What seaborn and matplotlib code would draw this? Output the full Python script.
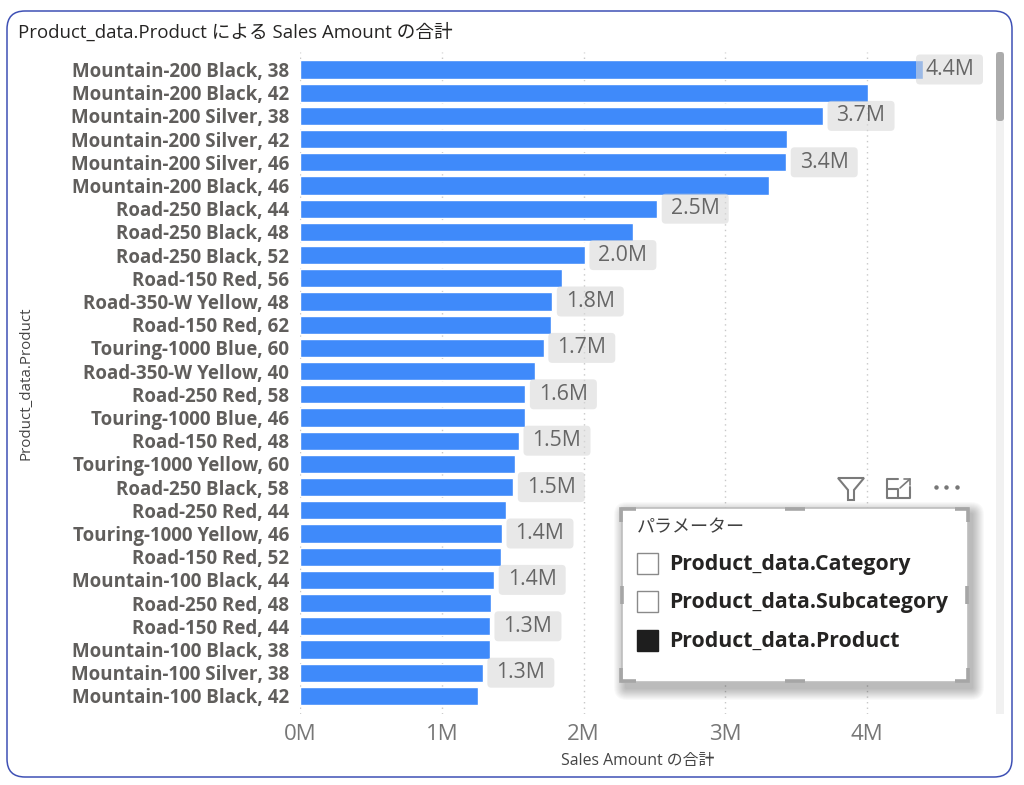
import matplotlib
matplotlib.use('Agg')
import matplotlib.pyplot as plt
from matplotlib.patches import FancyBboxPatch, Rectangle, Polygon
from matplotlib.transforms import Affine2D
import pandas as pd
import seaborn as sns

products = ['Mountain-200 Black, 38', 'Mountain-200 Black, 42', 'Mountain-200 Silver, 38',
            'Mountain-200 Silver, 42', 'Mountain-200 Silver, 46', 'Mountain-200 Black, 46',
            'Road-250 Black, 44', 'Road-250 Black, 48', 'Road-250 Black, 52',
            'Road-150 Red, 56', 'Road-350-W Yellow, 48', 'Road-150 Red, 62',
            'Touring-1000 Blue, 60', 'Road-350-W Yellow, 40', 'Road-250 Red, 58',
            'Touring-1000 Blue, 46', 'Road-150 Red, 48', 'Touring-1000 Yellow, 60',
            'Road-250 Black, 58', 'Road-250 Red, 44', 'Touring-1000 Yellow, 46',
            'Road-150 Red, 52', 'Mountain-100 Black, 44', 'Road-250 Red, 48',
            'Road-150 Red, 44', 'Mountain-100 Black, 38', 'Mountain-100 Silver, 38',
            'Mountain-100 Black, 42']
sales = [4.395, 4.007, 3.69, 3.436, 3.43, 3.31, 2.52, 2.35, 2.01, 1.85, 1.78, 1.77, 1.72, 1.66,
         1.59, 1.585, 1.545, 1.52, 1.505, 1.45, 1.425, 1.415, 1.37, 1.35, 1.34, 1.34, 1.29, 1.255]
x_ticks = [0, 1, 2, 3, 4]
x_tick_labels = ['0M', '1M', '2M', '3M', '4M']
params = ['Product_data.Category', 'Product_data.Subcategory', 'Product_data.Product']
params_on = [False, False, True]

W, H = 1024, 785

sns.set_theme(style='white')
plt.rcParams['font.family'] = ['Open Sans', 'Noto Sans CJK JP', 'DejaVu Sans']

fig = plt.figure(figsize=(W / 100, H / 100), dpi=100, facecolor='white')

# background layer in pixel coordinates: card border and scrollbar
bg = fig.add_axes([0, 0, 1, 1], zorder=0)
bg.set_xlim(0, W)
bg.set_ylim(H, 0)
bg.axis('off')
bg.add_patch(FancyBboxPatch((7, 11), 1005, 766, boxstyle='round,pad=0,rounding_size=18',
                            fc='white', ec='#3F51B5', lw=1.1))
bg.add_patch(Rectangle((996, 52), 8, 662, fc='#F1F1F1', ec='none'))
bg.add_patch(FancyBboxPatch((996, 52), 8, 69, boxstyle='round,pad=0,rounding_size=3',
                            fc='#ABABAB', ec='none'))
bg.text(18, 32, 'Product_data.Product による Sales Amount の合計', fontsize=13.4,
        color='#252423', va='center', ha='left')

# chart, axes placed so that 1M = 141.75 px and one row = 23.2 px
left, right, top, bottom = 300, 985, 52, 714
ax = fig.add_axes([left / W, 1 - bottom / H, (right - left) / W, (bottom - top) / H], zorder=1)
ax.patch.set_alpha(0)

df = pd.DataFrame({'product': products, 'sales': sales})
sns.barplot(data=df, y='product', x='sales', orient='h', color='#3F8AFA', saturation=1,
            width=0.78, ax=ax, zorder=3)

ax.set_xlim(0, (right - left) / 141.75)
ax.set_ylim((bottom - 69.5) / 23.2, (top - 69.5) / 23.2)
ax.set_xticks(x_ticks)
ax.set_xticklabels(x_tick_labels, fontsize=16, color='#777777')
ax.tick_params(axis='x', length=0, pad=7)
ax.tick_params(axis='y', length=0, pad=8)
for lab in ax.get_yticklabels():
    lab.set_fontsize(13.5)
    lab.set_fontweight('bold')
    lab.set_color('#605E5C')
ax.set_xlabel('')
ax.set_ylabel('')
sns.despine(ax=ax, left=True, bottom=True)
ax.grid(axis='x', color='#C8C8C8', linestyle=(0, (1, 3)), linewidth=1)
ax.set_axisbelow(True)
for s in ax.spines.values():
    s.set_visible(False)

# data labels on every second bar, the first one gets pushed back to stay in view
box_w, box_h = 67, 30
for i, v in enumerate(sales):
    if i % 2 == 1:
        continue
    gap = -7 if i == 0 else 4.5
    px, py = ax.transData.transform((v, i))
    box = FancyBboxPatch((px + gap, py - box_h / 2), box_w, box_h,
                         boxstyle='round,pad=0,rounding_size=4', fc='#D9D9D9', ec='none', alpha=0.6,
                         transform=Affine2D(), zorder=4, clip_on=False)
    ax.add_patch(box)
    ax.annotate(f'{v:.1f}M', (v, i), xytext=((gap + box_w / 2) * 0.72, 0), textcoords='offset points',
                ha='center', va='center', fontsize=15.3, color='#666666', zorder=5)

# overlay layer: axis titles, slicer and its header icons
top_ax = fig.add_axes([0, 0, 1, 1], zorder=2)
top_ax.set_xlim(0, W)
top_ax.set_ylim(H, 0)
top_ax.axis('off')
top_ax.patch.set_alpha(0)

top_ax.text(26, 383, 'Product_data.Product', rotation=90, fontsize=10.9, color='#444444',
            ha='center', va='center')
top_ax.text(638, 761, 'Sales Amount の合計', fontsize=11.4, color='#444444', ha='center', va='center')

# soft shadow
for grow in range(12, 0, -1):
    top_ax.add_patch(FancyBboxPatch((622 + 4 - grow, 508 + 6 - grow), 346 + 2 * grow, 174 + 2 * grow,
                                    boxstyle=f'round,pad=0,rounding_size={grow + 1}', fc='black',
                                    ec='none', alpha=0.022))
top_ax.add_patch(Rectangle((622, 508), 346, 174, fc='white', ec='#BDBDBD', lw=1.2))

# focus handles
hc = '#A6A6A6'
hl = 2.6
for xs, ys in [([621, 621, 636], [522, 509, 509]), ([955, 968, 968], [509, 509, 522]),
               ([621, 621, 636], [668, 681, 681]), ([955, 968, 968], [681, 681, 668]),
               ([785, 805], [509, 509]), ([785, 805], [681, 681]),
               ([622, 622], [586, 604]), ([967, 967], [586, 604])]:
    top_ax.plot(xs, ys, color=hc, lw=hl, solid_capstyle='butt', solid_joinstyle='miter')

top_ax.text(637, 527, 'パラメーター', fontsize=13, color='#404040', ha='left', va='center')
for i, p in enumerate(params):
    yc = 563.5 + i * 38.3
    top_ax.add_patch(Rectangle((637, yc - 10.5), 21, 21, fc='#1E1E1E' if params_on[i] else 'white',
                               ec='#1E1E1E' if params_on[i] else '#8A8A8A', lw=1))
    top_ax.text(669, yc + 1, p, fontsize=15.3, fontweight='bold', color='#252423', ha='left', va='center')

# header icons
ic = '#7A7A7A'
top_ax.add_patch(Polygon([(838, 478), (864, 478), (854, 490), (854, 500), (848, 500), (848, 490)],
                         closed=True, fc='white', ec=ic, lw=1.5))
top_ax.plot([898, 887, 887, 910, 910], [479, 479, 498, 498, 487], color=ic, lw=1.5)
top_ax.plot([887, 898, 898], [489, 489, 498], color=ic, lw=1.5)
top_ax.plot([900, 910], [488, 479], color=ic, lw=1.2)
top_ax.plot([904, 910, 910], [479, 479, 485], color=ic, lw=1.2)
top_ax.plot([936, 946, 957], [487, 487, 487], ls='none', marker='o', ms=2.2, color='#777777')

plt.savefig('out.png', dpi=100)
